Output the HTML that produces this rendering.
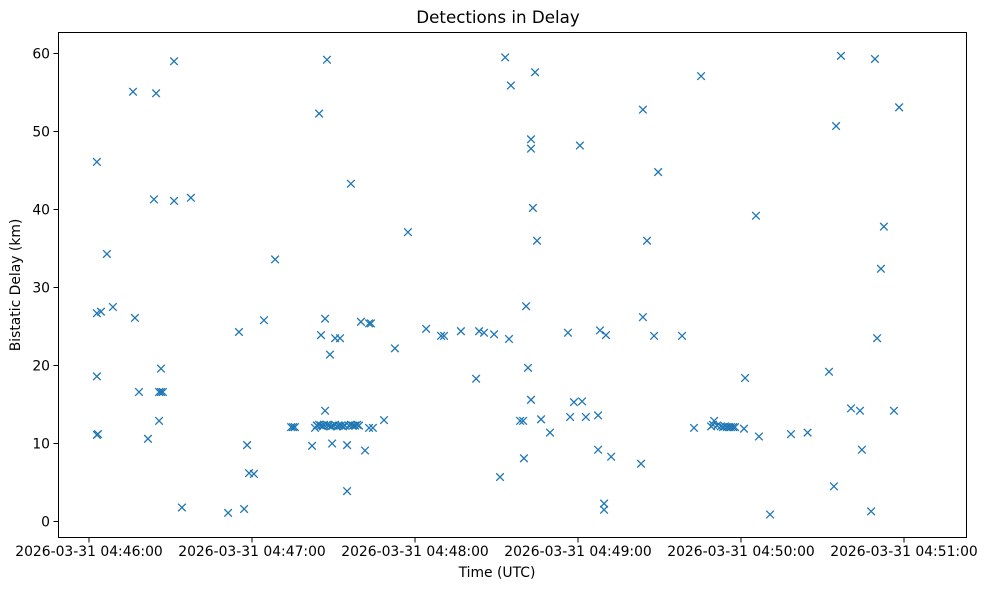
<!DOCTYPE html>
<html><head><meta charset="utf-8"><style>
body{margin:0;background:#fff;}
svg text{font-family:"DejaVu Sans","Liberation Sans",sans-serif;fill:#000;}
</style></head><body>
<svg id="chart" width="985" height="590" xmlns="http://www.w3.org/2000/svg">
<rect width="985" height="590" fill="#fff"/>
<text x="498" y="23" font-size="16.7" text-anchor="middle">Detections in Delay</text>
<text x="497" y="577" font-size="13.9" text-anchor="middle">Time (UTC)</text>
<text transform="translate(20,285) rotate(-90)" font-size="13.9" text-anchor="middle">Bistatic Delay (km)</text>
<g id="ticks"></g>
<g id="marks"></g>
<rect x="58.5" y="32.5" width="908" height="505" fill="none" stroke="#000" stroke-width="1"/>
</svg>
<script>
// seconds after 2026-03-31 04:46:00 UTC
const times = [2.9,2.9,4.4,2.9,2.9,3.3,6.6,8.8,16.2,16.9,18.4,21.7,23.9,24.7,25.8,26.5,25.8,26.5,27.2,31.3,31.3,34.2,37.5,51.2,55.2,57.1,58.2,58.9,60.7,64.4,68.5,74.4,75.1,75.8,82.1,83.2,83.9,84.7,85.4,86.5,86.9,86.9,87.6,88.7,89.5,90.6,92.4,95.0,95.0,96.4,100.1,101.6,103.1,103.8,103.1,104.5,108.6,112.6,117.4,124.1,129.6,130.7,136.9,142.5,143.6,145.4,149.1,151.3,153.2,154.6,155.3,158.7,159.8,160.1,160.9,161.6,162.7,162.7,162.7,163.4,164.2,164.9,166.4,169.7,176.3,177.1,178.5,180.7,181.5,182.9,187.4,187.4,188.1,189.6,189.6,190.3,192.2,203.2,203.9,203.9,205.4,208.0,209.5,218.3,222.7,225.3,229.0,230.1,229.7,231.2,232.6,233.4,234.1,234.8,235.6,236.3,237.1,237.8,241.1,241.5,245.5,246.6,250.7,258.4,264.5,272.4,274.2,275.0,276.8,280.5,283.8,284.5,287.9,289.3,290.1,291.5,292.6,296.3,298.2,
83.9,84.7,85.4,86.1,87.6,88.3,89.1,89.8,90.6,91.3,92.0,92.8,93.5,94.2,95.7,96.4,97.2,97.9,98.7,99.4];
const delays = [46.1,26.7,26.9,18.6,11.1,11.2,34.3,27.5,55.1,26.1,16.6,10.6,41.3,54.9,12.9,19.6,16.6,16.6,16.6,59.0,41.1,1.8,41.5,1.1,24.3,1.6,9.8,6.2,6.1,25.8,33.6,12.1,12.1,12.1,9.7,12.0,12.3,52.3,23.9,12.4,14.2,26.0,59.2,21.4,10.0,23.5,23.5,9.8,3.9,43.3,25.6,9.1,25.4,25.4,12.0,12.0,13.0,22.2,37.1,24.7,23.8,23.8,24.4,18.3,24.4,24.2,24.0,5.7,59.5,23.4,55.9,12.9,12.9,8.1,27.6,19.7,49.0,47.8,15.6,40.2,57.6,36.0,13.1,11.4,24.2,13.4,15.3,48.2,15.4,13.4,13.6,9.2,24.5,2.3,1.5,23.9,8.3,7.4,52.8,26.2,36.0,23.8,44.8,23.8,12.0,57.1,12.2,12.9,12.4,12.3,12.2,12.1,12.2,12.1,12.1,12.1,12.1,12.1,11.9,18.4,39.2,10.9,0.9,11.2,11.4,19.2,4.5,50.7,59.7,14.5,14.2,9.2,1.3,59.3,23.5,32.4,37.8,14.2,53.1,
12.3,12.4,12.3,12.2,12.4,12.3,12.2,12.3,12.4,12.2,12.3,12.3,12.2,12.3,12.3,12.4,12.3,12.3,12.4,12.3];
const yTicks = [0,10,20,30,40,50,60];
const xTickSecs = [0,60,120,180,240,300];
const xTickLabels = ["2026-03-31 04:46:00","2026-03-31 04:47:00","2026-03-31 04:48:00","2026-03-31 04:49:00","2026-03-31 04:50:00","2026-03-31 04:51:00"];

const NS="http://www.w3.org/2000/svg";
function xScale(s){return 89+s*163/60;}
function yScale(v){return 521.5-v*7.8;}
const ticks=document.getElementById('ticks');
const marks=document.getElementById('marks');
yTicks.forEach(v=>{
  const y=yScale(v);
  const l=document.createElementNS(NS,'line');
  l.setAttribute('x1',53.5);l.setAttribute('x2',58);l.setAttribute('y1',y);l.setAttribute('y2',y);l.setAttribute('stroke','#000');
  
  
  ticks.appendChild(l);
  const t=document.createElementNS(NS,'text');
  t.setAttribute('x',50);t.setAttribute('y',y+5);t.setAttribute('font-size','13.9');t.setAttribute('text-anchor','end');
  t.textContent=v;
  
  
  ticks.appendChild(t);
});
xTickSecs.forEach((s,i)=>{
  const x=xScale(s);
  const l=document.createElementNS(NS,'line');
  l.setAttribute('x1',x);l.setAttribute('x2',x);l.setAttribute('y1',538);l.setAttribute('y2',542.5);l.setAttribute('stroke','#000');
  
  
  ticks.appendChild(l);
  const t=document.createElementNS(NS,'text');
  t.setAttribute('x',x);t.setAttribute('y',556);t.setAttribute('font-size','13.9');t.setAttribute('text-anchor','middle');
  t.textContent=xTickLabels[i];
  
  
  ticks.appendChild(t);
});
times.forEach((s,i)=>{
  const x=xScale(s),y=yScale(delays[i]),r=3.8;
  const p=document.createElementNS(NS,'path');
  p.setAttribute('d',`M${x-r},${y-r}L${x+r},${y+r}M${x-r},${y+r}L${x+r},${y-r}`);
  p.setAttribute('stroke','#1f77b4');p.setAttribute('stroke-width','1.3');p.setAttribute('fill','none');
  
  
  marks.appendChild(p);
});
</script>
</body></html>
